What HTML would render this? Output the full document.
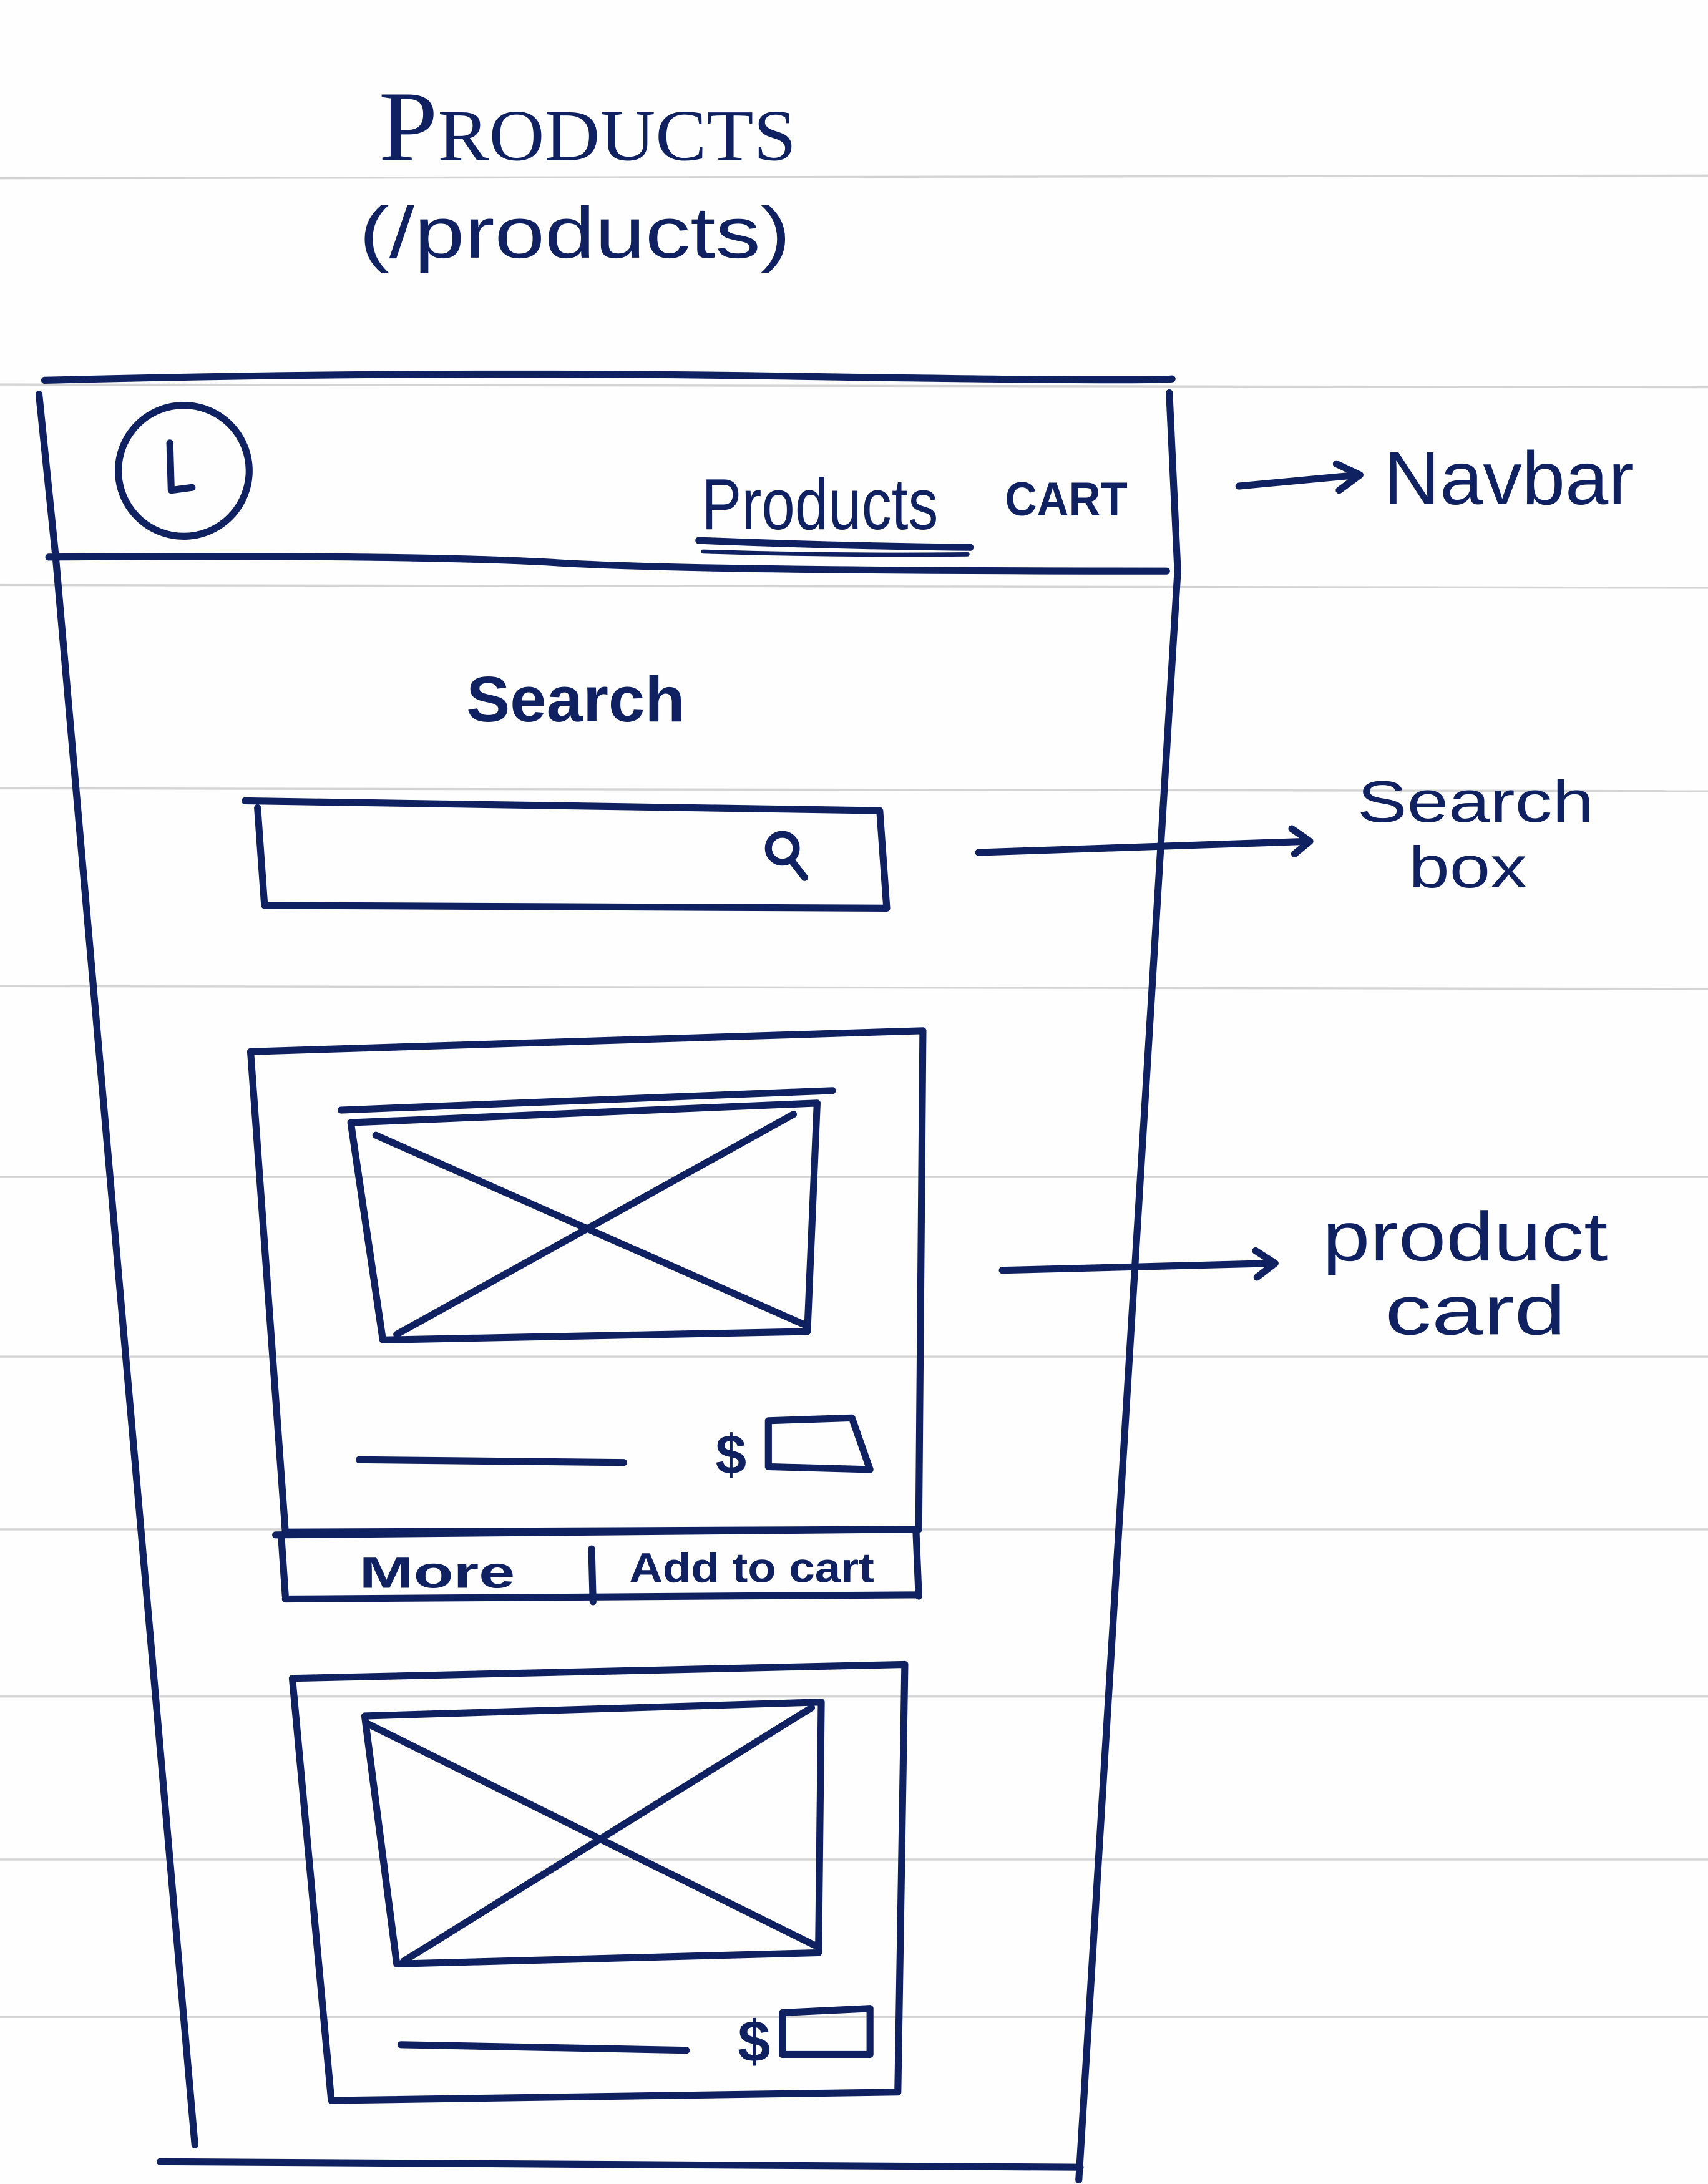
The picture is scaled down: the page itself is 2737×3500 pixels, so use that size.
<!DOCTYPE html>
<html><head><meta charset="utf-8"><style>
html,body{margin:0;padding:0;background:#fff;}
svg{display:block;}
text{font-family:"Liberation Sans",sans-serif;fill:#0f2160;}
</style></head><body>
<svg width="2737" height="3500" viewBox="0 0 1227 1568" preserveAspectRatio="none" xmlns="http://www.w3.org/2000/svg">
<rect width="1227" height="1568" fill="#fefefe"/>
<g stroke="#d4d4d4" stroke-width="1.5">
<line x1="0" y1="128" x2="1227" y2="126"/>
<line x1="0" y1="276" x2="1227" y2="278"/>
<line x1="0" y1="420" x2="1227" y2="422"/>
<line x1="0" y1="566" x2="1227" y2="568"/>
<line x1="0" y1="708" x2="1227" y2="710"/>
<line x1="0" y1="845" x2="1227" y2="845"/>
<line x1="0" y1="974" x2="1227" y2="974"/>
<line x1="0" y1="1098" x2="1227" y2="1098"/>
<line x1="0" y1="1218" x2="1227" y2="1218"/>
<line x1="0" y1="1335" x2="1227" y2="1335"/>
<line x1="0" y1="1448" x2="1227" y2="1448"/>
</g>
<g stroke="#0f2160" stroke-width="5" fill="none" stroke-linecap="round" stroke-linejoin="round">
<path d="M32 273 Q300 266 560 270 T842 272"/>
<path d="M28 283 L40 400 L140 1540"/>
<path d="M840 282 L846 410 L775 1565"/>
<path d="M115 1552 L776 1556"/>
<path d="M35 400 Q300 398 400 404 T838 410"/>
<circle cx="132" cy="338" r="47"/>
<path d="M122 318 L123 352 L138 350"/>
<path d="M502 388 Q600 392 697 393"/>
<path d="M505 396 Q600 399 695 398" stroke-width="3"/>
<path d="M890 349 L976 341 M960 333 L977 341 L962 352"/>
<path d="M176 575 L632 582 L637 652 L190 650 L185 580"/>
<circle cx="562" cy="609" r="10"/>
<path d="M568 617 L578 630"/>
<path d="M703 612 L940 604 M928 595 L941 604 L930 613"/>
<path d="M180 755 L663 740 L660 1098 L205 1100 L180 755"/>
<path d="M245 797 L598 783"/>
<path d="M252 806 L275 962 L580 956 L587 792 L252 806"/>
<path d="M270 815 L580 952"/>
<path d="M570 800 L285 958"/>
<path d="M258 1048 L448 1050"/>
<path d="M552 1020 L612 1018 L625 1055 L552 1053 Z"/>
<path d="M198 1102 L645 1098 M205 1148 L660 1145 M658 1098 L660 1146 M425 1112 L426 1150 M202 1102 L205 1146"/>
<path d="M720 912 L915 907 M902 898 L916 907 L903 917"/>
<path d="M210 1205 L650 1195 L645 1502 L238 1508 L210 1205"/>
<path d="M262 1232 L590 1222 L588 1402 L285 1410 L262 1232"/>
<path d="M265 1238 L588 1398"/>
<path d="M583 1226 L290 1408"/>
<path d="M288 1468 L493 1472"/>
<path d="M562 1445 L625 1442 L625 1475 L562 1475 Z"/>
</g>
<text x="272" y="115" font-size="72" style="font-family:'Liberation Serif',serif" textLength="300" lengthAdjust="spacingAndGlyphs">P<tspan font-size="52">RODUCTS</tspan></text>
<text x="258" y="185" font-size="52" textLength="310" lengthAdjust="spacingAndGlyphs">(/products)</text>
<text x="504" y="380" font-size="52" textLength="170" lengthAdjust="spacingAndGlyphs">Products</text>
<text x="722" y="370" font-size="34" font-weight="bold" textLength="88" lengthAdjust="spacingAndGlyphs">CART</text>
<text x="994" y="362" font-size="54" textLength="180" lengthAdjust="spacingAndGlyphs">Navbar</text>
<text x="335" y="518" font-size="46" font-weight="bold" textLength="157" lengthAdjust="spacingAndGlyphs">Search</text>
<text x="975" y="590" font-size="42" textLength="170" lengthAdjust="spacingAndGlyphs">Search</text>
<text x="1012" y="637" font-size="42" textLength="85" lengthAdjust="spacingAndGlyphs">box</text>
<text x="950" y="905" font-size="50" textLength="205" lengthAdjust="spacingAndGlyphs">product</text>
<text x="995" y="958" font-size="50" textLength="130" lengthAdjust="spacingAndGlyphs">card</text>
<text x="514" y="1058" font-size="40" font-weight="bold">$</text>
<text x="530" y="1480" font-size="42" font-weight="bold">$</text>
<text x="258" y="1140" font-size="32" font-weight="bold" textLength="112" lengthAdjust="spacingAndGlyphs">More</text>
<text x="452" y="1136" font-size="30" font-weight="bold" textLength="176" lengthAdjust="spacingAndGlyphs">Add to cart</text>
</svg>
</body></html>
